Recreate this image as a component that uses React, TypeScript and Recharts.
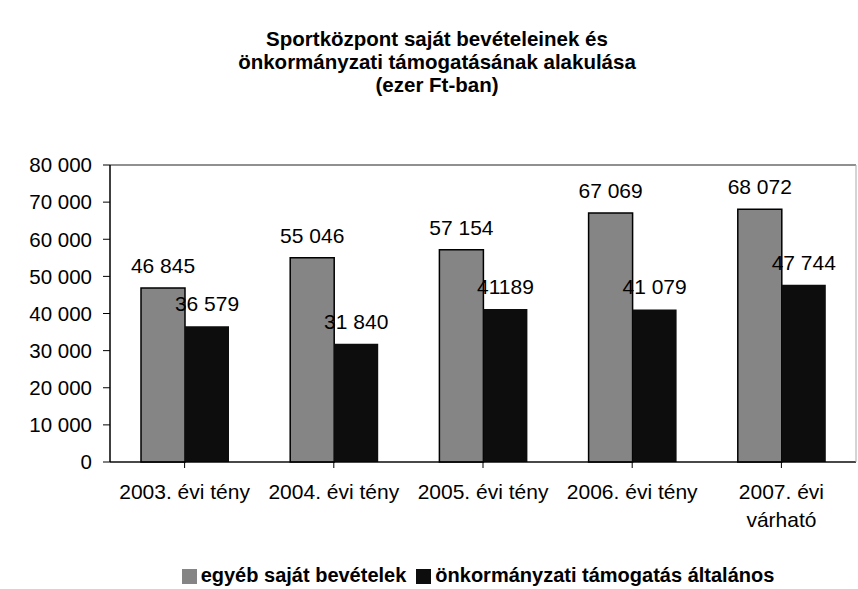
import React from 'react';
import { BarChart, Bar, XAxis, YAxis, CartesianGrid, Legend, LabelList } from 'recharts';

// adatok (ezer Ft)
const categories = ['2003. évi tény', '2004. évi tény', '2005. évi tény', '2006. évi tény', '2007. évi\nvárható'];
const sajatBevetel = [46845, 55046, 57154, 67069, 68072];
const onkormanyzati = [36579, 31840, 41189, 41079, 47744];
const sajatLabels = ['46 845', '55 046', '57 154', '67 069', '68 072'];
const onkLabels = ['36 579', '31 840', '41189', '41 079', '47 744'];
const yTicks = [0, 10000, 20000, 30000, 40000, 50000, 60000, 70000, 80000];

const data = categories.map((c, i) => ({
    name: c,
    sajat: sajatBevetel[i],
    onk: onkormanyzati[i],
    sajatLabel: sajatLabels[i],
    onkLabel: onkLabels[i],
}));

const FONT = '"Liberation Sans", Arial, sans-serif';

const fmt = (v: number) => String(v).replace(/\B(?=(\d{3})+(?!\d))/g, ' ');

// kategória felirat több sorban
const CatTick = (props: any) => {
    const { x, y, payload } = props;
    const lines = String(payload.value).split('\n');
    return (
        <g transform={`translate(${x},${y})`}>
            {lines.map((l, i) => (
                <text key={i} x={0} y={29 + i * 28} textAnchor="middle" fontSize={21} fill="#000" fontFamily={FONT}>
                    {l}
                </text>
            ))}
        </g>
    );
};

// oszlop feletti érték, tördelés nélkül
const renderLabel = (props: any) => {
    const { x, y, width, value } = props;
    return (
        <text x={x + width / 2} y={y - 15} textAnchor="middle" fontSize={21} fill="#000" fontFamily={FONT}>
            {value}
        </text>
    );
};

export default function App() {
    return (
        <div style={{ position: 'absolute', left: 0, top: 0, width: 858, height: 589, background: '#fff', fontFamily: FONT }}>
            <div style={{ position: 'absolute', left: 0, top: 27, width: 874, textAlign: 'center', fontWeight: 'bold', fontSize: 20.5, lineHeight: '23px', color: '#000' }}>
                Sportközpont saját bevételeinek és<br />
                önkormányzati támogatásának alakulása<br />
                (ezer Ft-ban)
            </div>
            <BarChart width={858} height={589} data={data} margin={{ top: 165, right: 1, left: 0, bottom: 2 }} barGap={0} barSize={44}>
                <CartesianGrid vertical={false} stroke="#222" strokeWidth={1.2} />
                <XAxis dataKey="name" tick={<CatTick />} tickLine={{ stroke: '#000' }} tickSize={6} axisLine={{ stroke: '#000' }} height={101} interval={0} />
                <YAxis yAxisId="left" domain={[0, 80000]} ticks={yTicks} tickFormatter={fmt} width={110} tickSize={7} tickMargin={11}
                    tick={{ fontSize: 20.5, fill: '#000', fontFamily: FONT }} tickLine={{ stroke: '#000' }} axisLine={{ stroke: '#000', strokeWidth: 1.5 }} />
                <YAxis yAxisId="right" orientation="right" width={1} tick={false} tickLine={false} axisLine={{ stroke: '#aaa' }} />
                <Legend verticalAlign="bottom" align="center" iconType="square" iconSize={15}
                    wrapperStyle={{ left: 170, width: 626, fontSize: 20, fontWeight: 'bold', lineHeight: '24px', color: '#000' }}
                    formatter={(v: string) => <span style={{ color: '#000' }}>{v}</span>} />
                <Bar yAxisId="left" dataKey="sajat" name="egyéb saját bevételek" fill="#858585" stroke="#000" strokeWidth={1.5} isAnimationActive={false}>
                    <LabelList dataKey="sajatLabel" content={renderLabel} />
                </Bar>
                <Bar yAxisId="left" dataKey="onk" name="önkormányzati támogatás általános" fill="#0d0d0d" isAnimationActive={false}>
                    <LabelList dataKey="onkLabel" content={renderLabel} />
                </Bar>
            </BarChart>
        </div>
    );
}
